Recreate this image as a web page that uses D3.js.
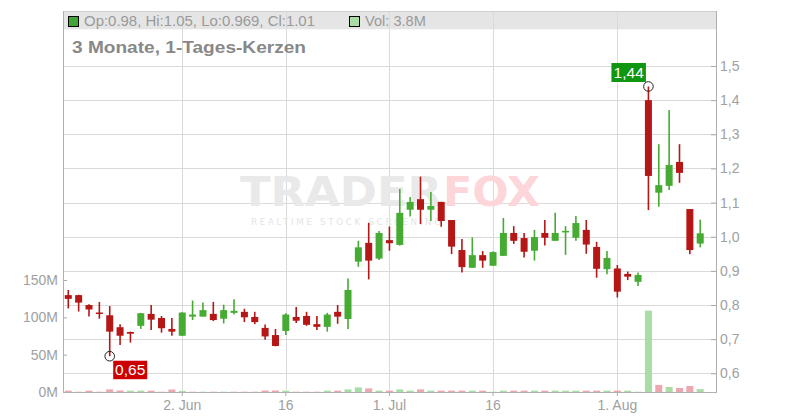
<!DOCTYPE html>
<html><head><meta charset="utf-8">
<script src="https://cdn.jsdelivr.net/npm/d3@7"></script>
<style>body{margin:0;background:#fff}svg{display:block;font-family:"Liberation Sans",Arial,sans-serif}</style>
</head><body><svg id="c" width="800" height="420"></svg>
<script>
const dates=["2025-05-15","2025-05-16","2025-05-19","2025-05-20","2025-05-21","2025-05-22","2025-05-23","2025-05-27","2025-05-28","2025-05-29","2025-05-30",
"2025-06-02","2025-06-03","2025-06-04","2025-06-05","2025-06-06","2025-06-09","2025-06-10","2025-06-11","2025-06-12","2025-06-13",
"2025-06-16","2025-06-17","2025-06-18","2025-06-20","2025-06-23","2025-06-24","2025-06-25","2025-06-26","2025-06-27","2025-06-30",
"2025-07-01","2025-07-02","2025-07-03","2025-07-07","2025-07-08","2025-07-09","2025-07-10","2025-07-11","2025-07-14","2025-07-15",
"2025-07-16","2025-07-17","2025-07-18","2025-07-21","2025-07-22","2025-07-23","2025-07-24","2025-07-25","2025-07-28","2025-07-29","2025-07-30","2025-07-31",
"2025-08-01","2025-08-04","2025-08-05","2025-08-06","2025-08-07","2025-08-08","2025-08-11","2025-08-12","2025-08-13"];
const opens=[0.829,0.829,0.800,0.778,0.770,0.735,0.721,0.739,0.774,0.762,0.730,
0.710,0.766,0.766,0.774,0.760,0.777,0.780,0.765,0.733,0.712,
0.724,0.765,0.768,0.744,0.736,0.780,0.759,0.927,0.982,0.936,
0.990,0.976,1.079,1.110,1.079,1.102,1.049,0.961,0.909,0.946,
0.915,0.944,1.011,0.996,0.959,1.011,0.988,1.015,0.997,1.020,0.970,0.905,
0.907,0.891,0.868,1.400,1.129,1.149,1.219,1.081,0.98];
const highs=[0.844,0.830,0.802,0.809,0.797,0.744,0.722,0.777,0.800,0.768,0.762,
0.779,0.813,0.807,0.809,0.801,0.817,0.789,0.780,0.743,0.730,
0.776,0.794,0.780,0.768,0.777,0.800,0.878,0.988,1.041,1.017,
1.030,1.140,1.116,1.176,1.131,1.102,1.049,0.993,0.998,0.958,
0.957,1.055,1.031,1.011,1.020,1.049,1.070,1.031,1.061,1.049,0.985,0.958,
0.917,0.898,0.895,1.44,1.271,1.371,1.271,1.081,1.05];
const lows=[0.790,0.781,0.766,0.760,0.65,0.683,0.690,0.730,0.727,0.719,0.710,
0.709,0.756,0.766,0.753,0.746,0.772,0.750,0.744,0.698,0.679,
0.712,0.747,0.739,0.727,0.722,0.745,0.730,0.912,0.875,0.932,
0.959,0.974,1.059,1.037,1.046,1.029,0.949,0.895,0.909,0.909,
0.914,0.944,0.979,0.939,0.930,0.974,0.988,0.947,0.988,0.950,0.880,0.890,
0.822,0.873,0.856,1.078,1.088,1.137,1.158,0.949,0.969];
const closes=[0.818,0.807,0.787,0.776,0.722,0.710,0.716,0.776,0.757,0.732,0.722,
0.778,0.772,0.785,0.756,0.785,0.783,0.764,0.750,0.708,0.680,
0.772,0.754,0.742,0.736,0.772,0.766,0.844,0.969,0.930,1.011,
0.981,1.070,1.102,1.079,1.090,1.046,0.971,0.911,0.946,0.930,
0.955,1.011,0.988,0.956,0.999,0.997,1.011,1.017,1.040,0.977,0.906,0.938,
0.839,0.883,0.888,1.178,1.151,1.210,1.187,0.961,1.01];
const volumes=[1.8,0.4,1.8,0.4,3.5,2.0,1.8,1.8,1.8,0.4,3.3,
1.5,0.4,0.4,0.4,0.4,0.4,0.4,0.4,2.0,2.0,
1.8,0.4,0.4,0.4,1.8,1.8,3.5,6.2,4.8,1.8,
1.8,3.5,1.8,3.5,1.8,1.8,1.8,1.8,1.8,1.8,
0.4,1.8,1.8,1.8,1.8,1.8,1.8,1.8,1.8,1.8,1.8,1.8,
1.8,1.8,0.4,109,9.5,6.8,5.4,8.0,3.8];
const priceTicks=[0.6,0.7,0.8,0.9,1.0,1.1,1.2,1.3,1.4,1.5];
const volumeTicks=[0,50,100,150];
const dateTicks=["2025-06-02","2025-06-16","2025-07-01","2025-07-16","2025-08-01"];
const dateTickLabels=["2. Jun","16","1. Jul","16","1. Aug"];
const headerText="Op:0.98, Hi:1.05, Lo:0.969, Cl:1.01";
const volText="Vol: 3.8M";
const titleText="3 Monate, 1-Tages-Kerzen";

const GREEN="#46ab33", RED="#b51717", VGREEN="#aadca6", VRED="#eda7ae";
const L=63, R=716, T=11, B=392;
const svg=d3.select("#c");
const x=d3.scaleBand().domain(dates).range([63.1,705.4]).padding(0);
const cx=d=>x(d)+x.bandwidth()/2;
const y=d3.scaleLinear().domain([0.6,1.5]).range([373.3,66]);
const yv=d3.scaleLinear().domain([0,150]).range([B,280]);
const fmtDE=v=>d3.format(".1f")(v).replace(".",",");
const data=dates.map((d,i)=>({d,o:opens[i],h:highs[i],l:lows[i],c:closes[i],v:volumes[i],
  up:closes[i]>=opens[i], vup: i===0 ? closes[i]>=opens[i] : closes[i]>=closes[i-1]}));

// header band
svg.append("rect").attr("x",L).attr("y",T).attr("width",R-L).attr("height",18.3).attr("fill","#e5e5e5");
// grid
svg.append("g").selectAll("line").data(priceTicks).join("line")
  .attr("x1",L).attr("x2",R).attr("y1",d=>Math.round(y(d))+0.5).attr("y2",d=>Math.round(y(d))+0.5)
  .attr("stroke","#dadada");
svg.append("g").selectAll("line").data(dateTicks).join("line")
  .attr("x1",d=>Math.round(cx(d))+0.5).attr("x2",d=>Math.round(cx(d))+0.5).attr("y1",T).attr("y2",B)
  .attr("stroke","#dadada");
svg.append("line").attr("x1",L).attr("x2",R).attr("y1",T+0.5).attr("y2",T+0.5).attr("stroke","#cfcfcf");

// watermark
const wm=svg.append("g");
wm.append("text").attr("x",240).attr("y",206).attr("font-family","DejaVu Sans").attr("font-weight","bold")
  .attr("font-size",40).attr("fill","#e9e9e9").attr("textLength",202).attr("lengthAdjust","spacingAndGlyphs").text("TRADER");
wm.append("text").attr("x",443).attr("y",206).attr("font-family","DejaVu Sans").attr("font-weight","bold")
  .attr("font-size",40).attr("fill","#fcd6d9").attr("textLength",97).attr("lengthAdjust","spacingAndGlyphs").text("FOX");
wm.append("text").attr("x",251).attr("y",224.5).attr("font-family","DejaVu Sans").attr("font-size",8.8)
  .attr("fill","#e4e4e4").attr("textLength",190).attr("lengthAdjust","spacing").text("REALTIME STOCK SCREENING");

// header legend
svg.append("rect").attr("x",68.5).attr("y",16.5).attr("width",10).attr("height",10).attr("fill","#3fa535").attr("stroke","#000");
svg.append("text").attr("x",84).attr("y",26).attr("font-size",14.6).attr("fill","#9a9a9a")
  .attr("textLength",231).attr("lengthAdjust","spacingAndGlyphs").text(headerText);
svg.append("rect").attr("x",349.5).attr("y",16.5).attr("width",10).attr("height",10).attr("fill",VGREEN).attr("stroke","#000");
svg.append("text").attr("x",365).attr("y",26).attr("font-size",14.6).attr("fill","#9a9a9a").text(volText);
svg.append("text").attr("x",72).attr("y",53).attr("font-size",17).attr("font-weight","bold").attr("fill","#888")
  .attr("textLength",234).attr("lengthAdjust","spacingAndGlyphs").text(titleText);

// volume bars
svg.append("g").selectAll("rect").data(data).join("rect")
  .attr("x",d=>cx(d.d)-3.5).attr("width",7)
  .attr("y",d=>yv(d.v)).attr("height",d=>B-yv(d.v))
  .attr("fill",d=>d.vup?VGREEN:VRED);

// candles
const cg=svg.append("g");
cg.selectAll("line").data(data).join("line")
  .attr("x1",d=>cx(d.d)).attr("x2",d=>cx(d.d)).attr("y1",d=>y(d.h)).attr("y2",d=>y(d.l))
  .attr("stroke",d=>d.up?GREEN:RED).attr("stroke-width",1.6);
cg.selectAll("rect").data(data).join("rect")
  .attr("x",d=>cx(d.d)-3.5).attr("width",7)
  .attr("y",d=>y(Math.max(d.o,d.c))).attr("height",d=>Math.max(1.5,Math.abs(y(d.o)-y(d.c))))
  .attr("fill",d=>d.up?GREEN:RED);

// axes
const ra=svg.append("g").attr("transform",`translate(${R},0)`)
  .call(d3.axisRight(y).tickValues(priceTicks).tickSize(-5).tickPadding(4).tickFormat(fmtDE));
ra.select(".domain").remove();
const la=svg.append("g").attr("transform",`translate(${L},0)`)
  .call(d3.axisLeft(yv).tickValues(volumeTicks).tickSize(-4).tickPadding(5).tickFormat(v=>v+"M"));
la.select(".domain").remove();
const ba=svg.append("g").attr("transform",`translate(0,${B})`)
  .call(d3.axisBottom(x).tickValues(dateTicks).tickSize(4).tickPadding(4)
  .tickFormat(d=>dateTickLabels[dateTicks.indexOf(d)]));
ba.select(".domain").remove();
[ra,la,ba].forEach(a=>{a.selectAll("text").attr("font-size",14).attr("fill","#a0a0a0").attr("font-family","Liberation Sans, Arial, sans-serif");
  a.selectAll(".tick line").attr("stroke","#aaa");});
svg.append("line").attr("x1",L+0.5).attr("x2",L+0.5).attr("y1",T).attr("y2",B+0.5).attr("stroke","#b0b0b0");
svg.append("line").attr("x1",R+0.5).attr("x2",R+0.5).attr("y1",T).attr("y2",B+0.5).attr("stroke","#b0b0b0");
svg.append("line").attr("x1",L).attr("x2",R+1).attr("y1",B+0.5).attr("y2",B+0.5).attr("stroke","#b0b0b0");

// extreme markers
const iMax=d3.maxIndex(highs), iMin=d3.minIndex(lows);
const hx=cx(dates[iMax]), hy=y(highs[iMax]);
const lx=cx(dates[iMin]), ly=y(lows[iMin]);
svg.append("circle").attr("cx",hx).attr("cy",hy).attr("r",4.8).attr("fill","none").attr("stroke","#222");
svg.append("circle").attr("cx",lx).attr("cy",ly).attr("r",4.8).attr("fill","none").attr("stroke","#222");
const hl=svg.append("g").attr("transform",`translate(${hx-37},${hy-23.5})`);
hl.append("rect").attr("width",34.5).attr("height",19).attr("fill","#119611");
hl.append("text").attr("x",17.3).attr("y",14.8).attr("text-anchor","middle").attr("font-size",15.5).attr("fill","#fff")
  .text(d3.format(".2f")(highs[iMax]).replace(".",","));
const ll=svg.append("g").attr("transform",`translate(${lx+3.5},${ly+4.5})`);
ll.append("rect").attr("width",34).attr("height",18.5).attr("fill","#cc0000");
ll.append("text").attr("x",17).attr("y",14.5).attr("text-anchor","middle").attr("font-size",15.5).attr("fill","#fff")
  .text(d3.format(".2f")(lows[iMin]).replace(".",","));
</script></body></html>
